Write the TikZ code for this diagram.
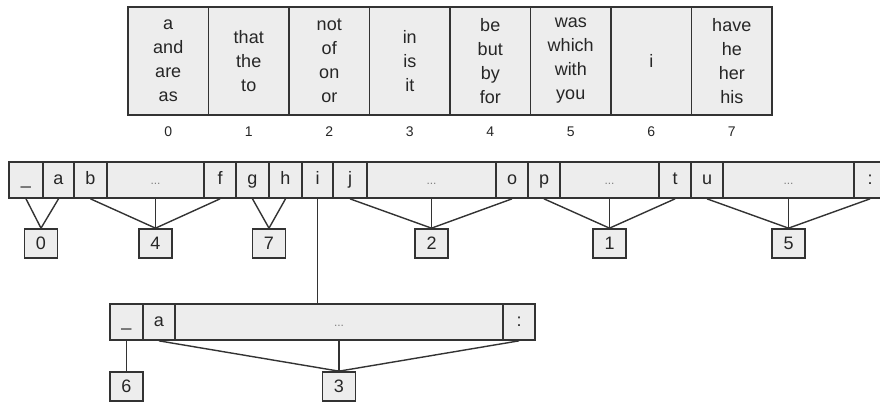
\documentclass[tikz,border=0pt]{standalone}
\usepackage{fontspec}
\setmainfont{Liberation Sans}
\usetikzlibrary{positioning, calc}

\definecolor{cellgray}{HTML}{EDEDED}
\definecolor{edgegray}{HTML}{333333}

\tikzset{
  wordcell/.style={draw=edgegray, line width=1.8pt, fill=cellgray, inner sep=0pt,
    minimum width=80.5pt, minimum height=108pt, align=center},
  cell/.style={draw=edgegray, line width=1.7pt, fill=cellgray, inner sep=0pt,
    minimum height=36pt, text height=12.5pt, text depth=3pt},
  dotcell/.style={cell, font=\fontsize{12}{14}\selectfont, text=gray},
  keybox/.style={draw=edgegray, line width=1.7pt, fill=cellgray, inner sep=0pt,
    minimum width=33pt, minimum height=29pt},
  idx/.style={inner sep=0pt, font=\fontsize{14}{16}\selectfont},
  link/.style={draw=edgegray, line width=1.4pt}
}

\begin{document}
\begin{tikzpicture}[x=1pt, y=-1pt, font=\fontsize{18}{24}\selectfont, text=black!85]
  \useasboundingbox (0,0) rectangle (880,402);

  % top table of words
  \foreach \i/\words in {0/{a\\and\\are\\as}, 1/{that\\the\\to}, 2/{not\\of\\on\\or},
      3/{in\\is\\it}, 4/{be\\but\\by\\for}, 5/{was\\which\\with\\you}, 6/{i},
      7/{have\\he\\her\\his}} {
    \node[wordcell] (w\i) at ({168.25+80.5*\i}, 61) {\words};
    \node[idx, below=11pt of w\i] (n\i) {\i};
  }

  % first level of the trie
  \foreach \name/\l/\r/\txt in {us/9/43/\_, a/43/74/a, b/74/107/b, f/204/236/f,
      g/236/269/g, h/269/302/h, i/302/333/i, j/333/367/j, o/496/528/o,
      p/528/560/p, t/659/691/t, u/691/723/u, col/854/886/:} {
    \node[cell, minimum width={(\r-\l)*1pt}] (c\name) at ({(\l+\r)/2}, 180) {\txt};
  }
  \foreach \name/\l/\r in {da/107/204, db/367/496, dc/560/659, dd/723/854} {
    \node[dotcell, minimum width={(\r-\l)*1pt}] (c\name) at ({(\l+\r)/2}, 180) {...};
  }

  % table indices
  \node[keybox] (k0) at (41, 243.5) {0};
  \node[keybox, below=29.3pt of cda] (k4) {4};
  \node[keybox] (k7) at (269, 243.5) {7};
  \node[keybox, below=29.3pt of cdb] (k2) {2};
  \node[keybox, below=29.3pt of cdc] (k1) {1};
  \node[keybox, below=29.3pt of cdd] (k5) {5};

  \foreach \from/\to in {us/k0, a/k0, b/k4, da/k4, f/k4, g/k7, h/k7,
      j/k2, db/k2, o/k2, p/k1, dc/k1, t/k1, u/k5, dd/k5, col/k5} {
    \draw[link] (c\from.south) -- (\to.north);
  }

  % second level below i
  \foreach \name/\l/\r/\txt in {us/110/143/\_, a/143/175/a, col/503/535/:} {
    \node[cell, minimum width={(\r-\l)*1pt}] (s\name) at ({(\l+\r)/2}, 322) {\txt};
  }
  \node[dotcell, minimum width=328pt] (sdots) at (339, 322) {...};

  \draw[link] (ci.south) -- (ci.south |- sdots.north);

  \node[keybox, below=30.3pt of sus] (k6) {6};
  \node[keybox, below=30.3pt of sdots] (k3) {3};

  \draw[link] (sus.south) -- (k6.north);
  \foreach \from in {a, dots, col} {
    \draw[link] (s\from.south) -- (k3.north);
  }
\end{tikzpicture}
\end{document}
